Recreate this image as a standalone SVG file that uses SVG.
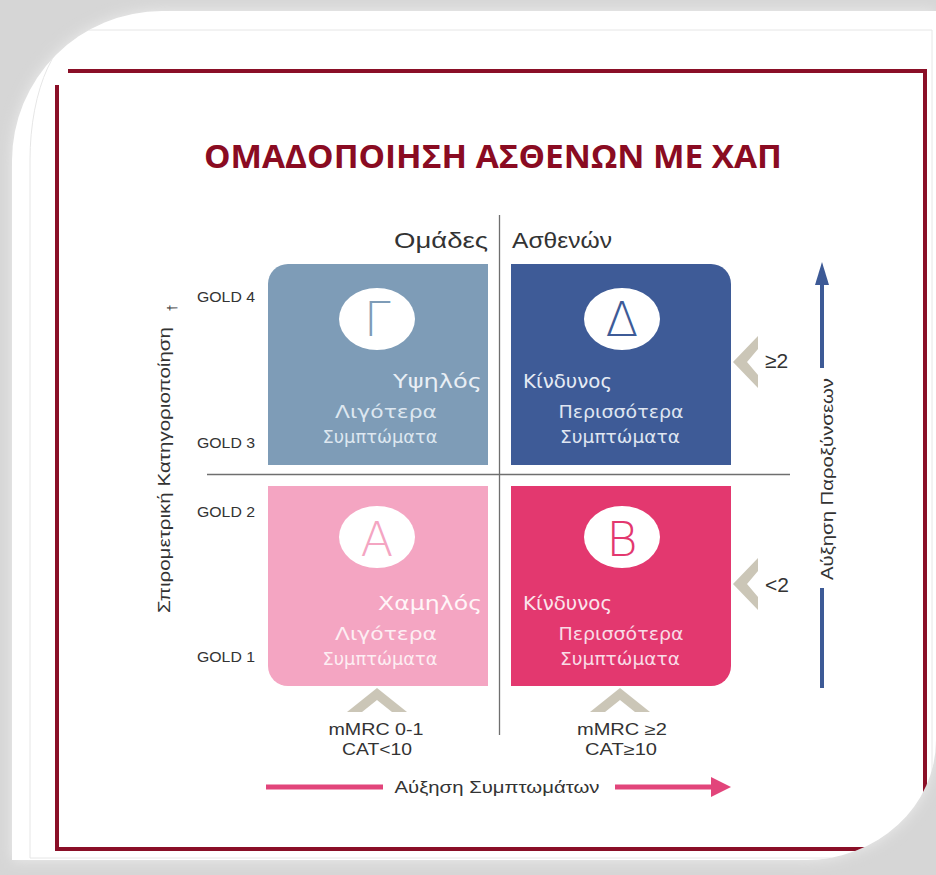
<svg xmlns="http://www.w3.org/2000/svg" width="936" height="875" viewBox="0 0 936 875">
  <defs>
    <style>
      .lbl { font-family: "Liberation Sans", Arial, sans-serif; fill: #333333; }
      .box { font-family: "DejaVu Sans", "Liberation Sans", sans-serif; }
      .title { font-family: "Open Sans", "Liberation Sans", sans-serif; font-weight: 700; fill: #8a0b22; }
      .frame { fill: none; stroke: #8a0f27; stroke-width: 4; }
      .chev { fill: #cbc6b7; }
      .divider { stroke: #6f6f6f; stroke-width: 1.3; fill: none; }
      .circ { fill: #ffffff; }
      .letter { font-family: "DejaVu Sans", "Liberation Sans", sans-serif; font-weight: 200; text-anchor: middle; }
    </style>
    <filter id="soft" x="-10%" y="-10%" width="120%" height="120%">
      <feGaussianBlur stdDeviation="7"/>
    </filter>
    <clipPath id="sheet">
      <path d="M12,161 A150,150 0 0 1 162,11 H936 V740 A130,120 0 0 1 806,860 H12 Z"/>
    </clipPath>
  </defs>

  <!-- background -->
  <rect x="0" y="0" width="936" height="875" fill="#d6d6d6"/>
  <path d="M12,161 A150,150 0 0 1 162,11 H936 V740 A130,120 0 0 1 806,860 H12 Z" fill="#ececec" filter="url(#soft)"/>
  <path d="M12,161 A150,150 0 0 1 162,11 H936 V740 A130,120 0 0 1 806,860 H12 Z" fill="#ffffff"/>
  <g clip-path="url(#sheet)">
    <path d="M30,858 V160 A60,130 0 0 1 90,30 H932 V858 Z" fill="none" stroke="#e6e6e6" stroke-width="1"/>
    <path class="frame" d="M68,71 H925 V860"/>
    <path class="frame" d="M57,85 V849 H925"/>
  </g>

  <!-- title -->
  <text class="title" x="493" y="168" font-size="33" text-anchor="middle" textLength="578" lengthAdjust="spacingAndGlyphs">ΟΜΑΔΟΠΟΙΗΣΗ ΑΣΘΕΝΩΝ ΜΕ ΧΑΠ</text>

  <!-- header -->
  <text class="lbl" x="488" y="248" font-size="22" text-anchor="end" textLength="94" lengthAdjust="spacingAndGlyphs">Ομάδες</text>
  <text class="lbl" x="512" y="248" font-size="22" textLength="100" lengthAdjust="spacingAndGlyphs">Ασθενών</text>

  <!-- connectors / axes -->
  <g id="connectors">
    <line class="divider" x1="499.5" y1="215" x2="499.5" y2="735"/>
    <line class="divider" x1="207" y1="474.5" x2="790" y2="474.5"/>
    <line x1="822" y1="283" x2="822" y2="368" stroke="#3d5a96" stroke-width="4"/>
    <line x1="822" y1="588" x2="822" y2="688" stroke="#3d5a96" stroke-width="4"/>
    <polygon points="822,262 815,285 829,285" fill="#3d5a96"/>
    <line x1="266" y1="787" x2="383" y2="787" stroke="#e2457b" stroke-width="5"/>
    <line x1="615" y1="787" x2="714" y2="787" stroke="#e2457b" stroke-width="5"/>
    <polygon points="711,777 731,787 711,797" fill="#e2457b"/>
    <polygon class="chev" points="758,336 733,362 758,388 758,375 747,362 758,349"/>
    <polygon class="chev" points="758,558 733,584 758,610 758,597 747,584 758,571"/>
    <polygon class="chev" points="347,712 377,688 407,712 392,712 377,700 362,712"/>
    <polygon class="chev" points="590,712 620,688 650,712 635,712 620,700 605,712"/>
  </g>

  <!-- axis labels -->
  <text class="lbl" x="0" y="0" font-size="17" text-anchor="middle" transform="translate(170,470) rotate(-90)" textLength="286" lengthAdjust="spacingAndGlyphs">Σπιρομετρική Κατηγοριοποίηση</text>
  <text class="lbl" x="0" y="0" font-size="12" text-anchor="middle" transform="translate(176,308) rotate(-90)">†</text>
  <text class="lbl" x="0" y="0" font-size="17" text-anchor="middle" transform="translate(833,479) rotate(-90)" textLength="202" lengthAdjust="spacingAndGlyphs">Αύξηση Παροξύνσεων</text>
  <text class="lbl" x="497" y="793" font-size="17" text-anchor="middle" textLength="205" lengthAdjust="spacingAndGlyphs">Αύξηση Συμπτωμάτων</text>

  <text class="lbl" x="197" y="302" font-size="15" textLength="58" lengthAdjust="spacingAndGlyphs">GOLD 4</text>
  <text class="lbl" x="197" y="448" font-size="15" textLength="58" lengthAdjust="spacingAndGlyphs">GOLD 3</text>
  <text class="lbl" x="197" y="517" font-size="15" textLength="58" lengthAdjust="spacingAndGlyphs">GOLD 2</text>
  <text class="lbl" x="197" y="662" font-size="15" textLength="58" lengthAdjust="spacingAndGlyphs">GOLD 1</text>

  <text class="lbl" x="765" y="368" font-size="21">≥2</text>
  <text class="lbl" x="765" y="592" font-size="21">&lt;2</text>

  <text class="lbl" x="376" y="735" font-size="16" text-anchor="middle" textLength="95" lengthAdjust="spacingAndGlyphs">mMRC 0-1</text>
  <text class="lbl" x="377" y="755" font-size="16" text-anchor="middle" textLength="70" lengthAdjust="spacingAndGlyphs">CAT&lt;10</text>
  <text class="lbl" x="622" y="735" font-size="16" text-anchor="middle" textLength="90" lengthAdjust="spacingAndGlyphs">mMRC ≥2</text>
  <text class="lbl" x="621" y="755" font-size="16" text-anchor="middle" textLength="72" lengthAdjust="spacingAndGlyphs">CAT≥10</text>

  <g id="node-gamma">
    <path d="M268,465 V284 A20,20 0 0 1 288,264 H488 V465 Z" fill="#7e9cb7"/>
    <ellipse class="circ" cx="377" cy="319" rx="38" ry="31"/>
    <text class="letter" x="377" y="336" font-size="48" fill="#7e9cb7">Γ</text>
    <text class="box" x="482" y="388" font-size="20" text-anchor="end" fill="#e9eff5" textLength="89" lengthAdjust="spacingAndGlyphs">Υψηλός</text>
    <text class="box" x="386" y="418" font-size="17" text-anchor="middle" fill="#dde7f0" textLength="102" lengthAdjust="spacingAndGlyphs">Λιγότερα</text>
    <text class="box" x="380" y="443" font-size="17" text-anchor="middle" fill="#dde7f0" textLength="115" lengthAdjust="spacingAndGlyphs">Συμπτώματα</text>
  </g>

  <g id="node-delta">
    <path d="M511,264 H711 A20,20 0 0 1 731,284 V465 H511 Z" fill="#3e5b97"/>
    <ellipse class="circ" cx="622" cy="319" rx="38" ry="31"/>
    <text class="letter" x="622" y="336" font-size="48" fill="#3e5b97">Δ</text>
    <text class="box" x="523" y="388" font-size="20" fill="#e6ebf4" textLength="89" lengthAdjust="spacingAndGlyphs">Κίνδυνος</text>
    <text class="box" x="621" y="418" font-size="17" text-anchor="middle" fill="#dfe5f1" textLength="125" lengthAdjust="spacingAndGlyphs">Περισσότερα</text>
    <text class="box" x="620" y="443" font-size="17" text-anchor="middle" fill="#dfe5f1" textLength="120" lengthAdjust="spacingAndGlyphs">Συμπτώματα</text>
  </g>

  <g id="node-alpha">
    <path d="M268,486 H488 V686 H288 A20,20 0 0 1 268,666 Z" fill="#f4a5c2"/>
    <ellipse class="circ" cx="377" cy="537" rx="38" ry="31"/>
    <text class="letter" x="377" y="556" font-size="48" fill="#f4a5c2">A</text>
    <text class="box" x="482" y="610" font-size="20" text-anchor="end" fill="#fff5f8" textLength="104" lengthAdjust="spacingAndGlyphs">Χαμηλός</text>
    <text class="box" x="386" y="640" font-size="17" text-anchor="middle" fill="#fdeef3" textLength="102" lengthAdjust="spacingAndGlyphs">Λιγότερα</text>
    <text class="box" x="380" y="665" font-size="17" text-anchor="middle" fill="#fdeef3" textLength="115" lengthAdjust="spacingAndGlyphs">Συμπτώματα</text>
  </g>

  <g id="node-beta">
    <path d="M511,486 H731 V666 A20,20 0 0 1 711,686 H511 Z" fill="#e3386f"/>
    <ellipse class="circ" cx="622" cy="537" rx="38" ry="31"/>
    <text class="letter" x="622" y="556" font-size="48" fill="#e3386f">B</text>
    <text class="box" x="523" y="610" font-size="20" fill="#fbe4ec" textLength="89" lengthAdjust="spacingAndGlyphs">Κίνδυνος</text>
    <text class="box" x="621" y="640" font-size="17" text-anchor="middle" fill="#f9dbe6" textLength="125" lengthAdjust="spacingAndGlyphs">Περισσότερα</text>
    <text class="box" x="620" y="665" font-size="17" text-anchor="middle" fill="#f9dbe6" textLength="120" lengthAdjust="spacingAndGlyphs">Συμπτώματα</text>
  </g>
</svg>
